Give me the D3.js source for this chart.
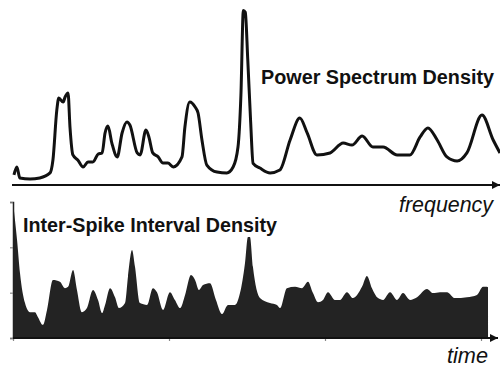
<!DOCTYPE html>
<html>
<head>
<meta charset="utf-8">
<script src="https://cdn.jsdelivr.net/npm/d3@7"></script>
<style>
  html, body { margin: 0; padding: 0; background: #fff; }
  svg { display: block; }
  text { font-family: "Liberation Sans", Arial, sans-serif; fill: #111; }
</style>
</head>
<body>
<svg id="chart" width="500" height="367"></svg>
<script>
// ---- Data ----
const psdFrequency = [0.2,0.8,1.4,3.5,5.5,7.6,8.2,9.0,9.4,10.3,10.7,11.3,11.7,12.3,13.3,14.4,15.4,16.4,17.5,18.3,18.9,19.5,20.3,21.4,22.4,23.4,24.0,25.5,26.1,27.3,27.9,28.7,29.8,30.8,31.8,32.9,34.7,35.3,36.3,37.4,38.0,38.8,39.8,41.9,43.9,45.2,46.2,46.8,47.3,47.7,48.2,48.8,49.3,50.7,52.8,54.8,56.9,58.9,60.4,62.4,65.1,67.8,69.6,71.7,73.9,76.0,78.9,81.5,83.6,85.2,87.1,89.1,91.2,93.2,96.3,98.6,100];
const psdPower = [5.6,10,3.9,3.3,3.9,6.7,13.9,41.7,48.3,46.1,48.9,51.1,32.2,16.7,13.9,10,12.8,12.8,17.2,17.8,28.9,32.8,23.3,15.6,28.9,35,33.3,17.8,16.7,30.6,26.7,17.8,15.6,12.2,12.2,10,15.6,32.2,46.1,43.3,40,25,11.1,7.2,6.7,10,21.1,50,97,96,70,35,12,9.4,6.7,8.3,25,37.2,28.9,16.7,17.8,23.3,22.2,27.2,21.1,21.1,16.7,16.7,26.7,31.7,25,15.6,13.3,17.8,38.9,25,17.8];

const isiTime = [0,0.026,0.045,0.077,0.109,0.141,0.160,0.192,0.218,0.256,0.301,0.333,0.353,0.385,0.410,0.442,0.474,0.513,0.545,0.571,0.590,0.622,0.654,0.679,0.718,0.737,0.763,0.782,0.814,0.859,0.897,0.923,0.962,1.006,1.038,1.071,1.103,1.141,1.167,1.192,1.218,1.263,1.301,1.340,1.378,1.423,1.455,1.487,1.506,1.519,1.538,1.583,1.647,1.692,1.712,1.756,1.808,1.853,1.891,1.923,1.955,1.987,2.019,2.064,2.096,2.141,2.179,2.237,2.269,2.301,2.340,2.372,2.417,2.462,2.500,2.545,2.590,2.654,2.692,2.737,2.782,2.833,2.910,2.974,3.013,3.038,3.045];
const isiDensity = [3.0,2.16,1.43,0.77,0.57,0.57,0.46,0.29,0.62,1.28,1.24,1.10,1.13,1.50,1.06,0.57,0.66,1.06,0.84,0.55,0.73,1.10,0.90,0.66,0.77,1.35,1.94,1.57,0.77,0.73,1.10,1.01,0.62,1.01,0.84,0.66,0.95,1.39,1.28,1.06,1.17,1.21,0.84,0.53,0.73,0.73,0.99,1.65,2.23,2.23,1.57,0.88,0.77,0.73,0.66,1.10,1.13,1.10,1.24,0.99,0.79,0.84,1.01,0.84,0.84,1.01,0.88,1.13,1.37,1.10,0.88,0.84,1.01,0.84,0.99,0.84,0.90,1.08,0.99,1.01,1.01,0.88,0.90,0.95,1.13,1.13,1.12];

const isiYTicks = [0, 1, 2, 3];
const isiXTicks = [0, 1, 2, 3];
const topTitle = "Power Spectrum Density";
const topAxisLabel = "frequency";
const bottomTitle = "Inter-Spike Interval Density";
const bottomAxisLabel = "time";

// ---- Drawing ----
const svg = d3.select("#chart");
const ink = "#111";

// Top panel scales
const xF = d3.scaleLinear().domain([0, 100]).range([13, 500]);
const yP = d3.scaleLinear().domain([0, 100]).range([185, 5]);

// Bottom panel scales
const xT = d3.scaleLinear().domain([0, 3]).range([13, 481]);
const yD = d3.scaleLinear().domain([0, 3]).range([338, 202]);

// arrow marker
const defs = svg.append("defs");
defs.append("marker")
  .attr("id", "arrow").attr("viewBox", "0 0 10 10")
  .attr("refX", 10).attr("refY", 5)
  .attr("markerWidth", 4.2).attr("markerHeight", 4.2)
  .attr("markerUnits", "strokeWidth")
  .attr("orient", "auto")
  .append("path").attr("d", "M0,0 L10,5 L0,10 Z").attr("fill", ink);

const psd = psdFrequency.map((f, i) => ({ x: f, y: psdPower[i] }));
const isi = isiTime.map((t, i) => ({ x: t, y: isiDensity[i] }));

// Bottom area
svg.append("path")
  .datum(isi)
  .attr("fill", "#232323")
  .attr("d", d3.area()
    .x(d => xT(d.x)).y0(yD(0)).y1(d => yD(d.y))
    .curve(d3.curveMonotoneX));

// Bottom y axis (left ticks)
const gy = svg.append("g").attr("transform", `translate(${xT(0)},0)`)
  .call(d3.axisLeft(yD).tickValues(isiYTicks).tickSize(3).tickFormat(""));
gy.select(".domain").attr("stroke", "#222").attr("stroke-width", 1.5);
gy.selectAll(".tick line").attr("stroke", "#777").attr("stroke-width", 1);

// Bottom x axis ticks
const gx = svg.append("g").attr("transform", `translate(0,${yD(0)})`)
  .call(d3.axisBottom(xT).tickValues(isiXTicks).tickSize(3).tickFormat(""));
gx.select(".domain").remove();
gx.selectAll(".tick line").attr("stroke", "#888").attr("stroke-width", 1.2);

// Bottom axis arrow line
svg.append("line")
  .attr("x1", xT(0)).attr("x2", 498)
  .attr("y1", yD(0)).attr("y2", yD(0))
  .attr("stroke", ink).attr("stroke-width", 2)
  .attr("marker-end", "url(#arrow)");

// Top axis arrow line
svg.append("line")
  .attr("x1", 12).attr("x2", 500)
  .attr("y1", yP(0)).attr("y2", yP(0))
  .attr("stroke", ink).attr("stroke-width", 2)
  .attr("marker-end", "url(#arrow)");

// Top line
svg.append("path")
  .datum(psd)
  .attr("fill", "none")
  .attr("stroke", ink)
  .attr("stroke-width", 3)
  .attr("stroke-linejoin", "round")
  .attr("d", d3.line().x(d => xF(d.x)).y(d => yP(d.y)).curve(d3.curveMonotoneX));

// Titles
svg.append("text")
  .attr("x", 261).attr("y", 84)
  .attr("font-size", 20).attr("font-weight", "bold")
  .attr("textLength", 233).attr("lengthAdjust", "spacingAndGlyphs")
  .text(topTitle);

svg.append("text")
  .attr("x", 23).attr("y", 232)
  .attr("font-size", 21).attr("font-weight", "bold")
  .attr("textLength", 254).attr("lengthAdjust", "spacingAndGlyphs")
  .text(bottomTitle);

svg.append("text")
  .attr("x", 399).attr("y", 212)
  .attr("font-size", 22).attr("font-style", "italic")
  .attr("textLength", 94).attr("lengthAdjust", "spacingAndGlyphs")
  .text(topAxisLabel);

svg.append("text")
  .attr("x", 447).attr("y", 363)
  .attr("font-size", 22).attr("font-style", "italic")
  .attr("textLength", 41).attr("lengthAdjust", "spacingAndGlyphs")
  .text(bottomAxisLabel);
</script>
</body>
</html>
